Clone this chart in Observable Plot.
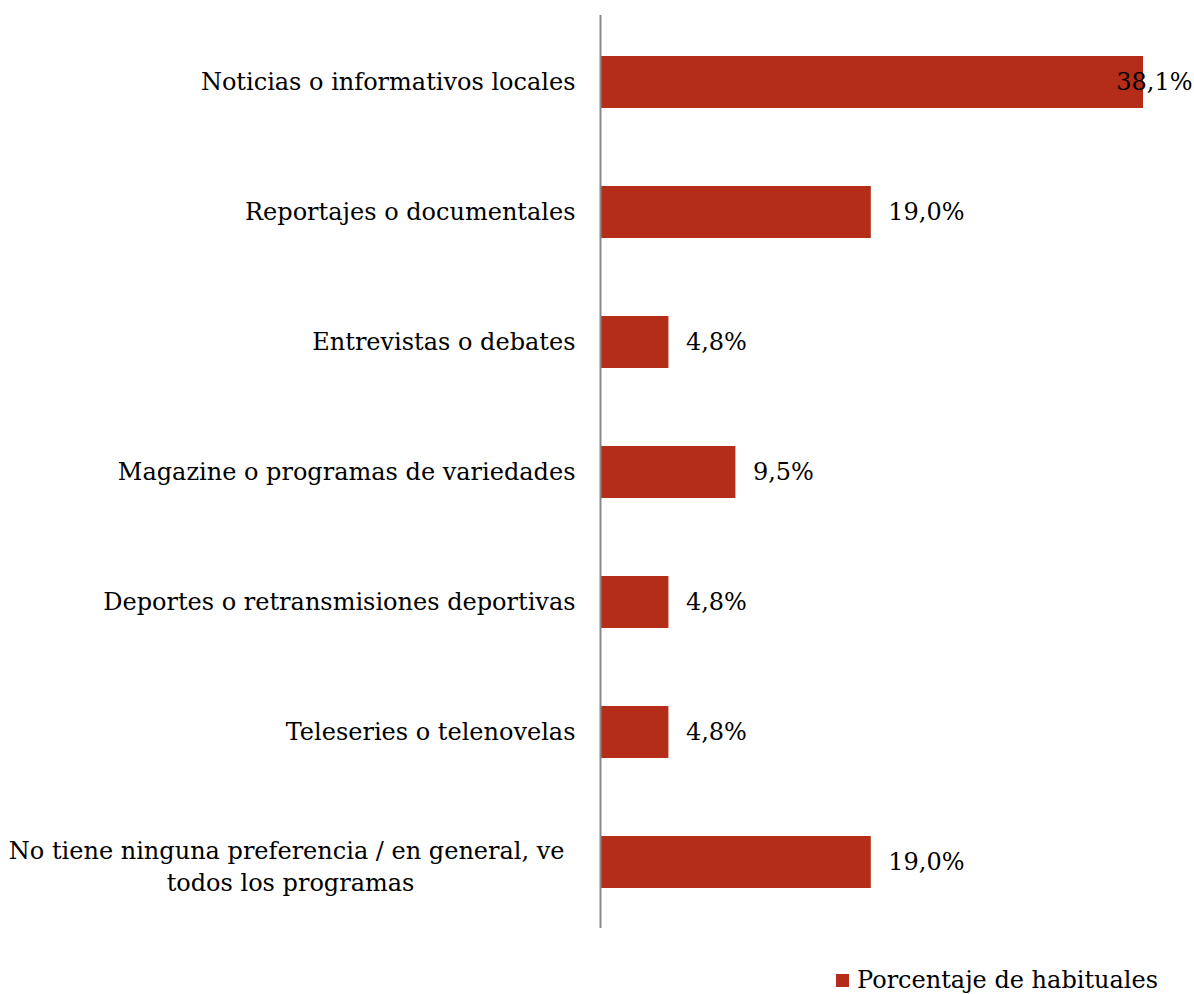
<!DOCTYPE html>
<html>
<head>
<meta charset="utf-8">
<script src="https://cdn.jsdelivr.net/npm/d3@7"></script>
<script src="https://cdn.jsdelivr.net/npm/@observablehq/plot@0.6"></script>
<style>
  html, body { margin: 0; padding: 0; background: #fff; }
  #chart { width: 1194px; }
  #legend { position: relative; height: 44px; font-family: "DejaVu Serif", serif; font-size: 24px; color: #000; }
  #legend .item { position: absolute; left: 836px; top: 16px; display: flex; align-items: center; white-space: nowrap; }
  #legend .sw { width: 13px; height: 13px; background: #B32D19; margin-right: 8px; }
</style>
</head>
<body>
<div id="chart"></div>
<div id="legend"><div class="item"><span class="sw"></span><span>Porcentaje de habituales</span></div></div>
<script>
const categories = [
  "Noticias o informativos locales",
  "Reportajes o documentales",
  "Entrevistas o debates",
  "Magazine o programas de variedades",
  "Deportes o retransmisiones deportivas",
  "Teleseries o telenovelas",
  "No tiene ninguna preferencia / en general, ve todos los programas"
];
const values = [38.1, 19.0, 4.8, 9.5, 4.8, 4.8, 19.0];
const labels = ["38,1%", "19,0%", "4,8%", "9,5%", "4,8%", "4,8%", "19,0%"];
const wrapped = {"No tiene ninguna preferencia / en general, ve todos los programas": "No tiene ninguna preferencia / en general, ve \ntodos los programas"};
const seriesName = "Porcentaje de habituales";

const data = categories.map((c, i) => ({category: c, value: values[i], label: labels[i]}));
const maxV = d3.max(values);
const font = "DejaVu Serif, serif";
const color = "#B32D19";

const chart = Plot.plot({
  width: 1194,
  height: 950,
  marginLeft: 600,
  marginRight: 51,
  marginTop: 15,
  marginBottom: 22,
  style: {fontFamily: font, fontSize: "24px", color: "#000", background: "#fff"},
  x: {domain: [0, maxV], axis: null},
  y: {domain: categories, axis: null, paddingInner: 0.6, paddingOuter: 0.3},
  marks: [
    Plot.barX(data, {x: "value", y: "category", fill: color}),
    Plot.ruleX([0], {stroke: "#888", strokeWidth: 2}),
    // value labels
    Plot.text(data.filter(d => d.value < maxV), {x: "value", y: "category", text: "label", textAnchor: "start", dx: 17, fontSize: 24}),
    Plot.text(data.filter(d => d.value === maxV), {x: "value", y: "category", text: "label", textAnchor: "end", dx: 49, fontSize: 24}),
    // category labels
    Plot.text(data.filter(d => !wrapped[d.category]), {x: 0, y: "category", text: "category", textAnchor: "end", dx: -25, fontSize: 24}),
    Plot.text(data.filter(d => wrapped[d.category]), {x: 0, y: "category", text: d => wrapped[d.category], textAnchor: "middle", dx: -310, dy: 2, fontSize: 24, lineHeight: 1.33})
  ]
});
document.getElementById("chart").appendChild(chart);
</script>
</body>
</html>
